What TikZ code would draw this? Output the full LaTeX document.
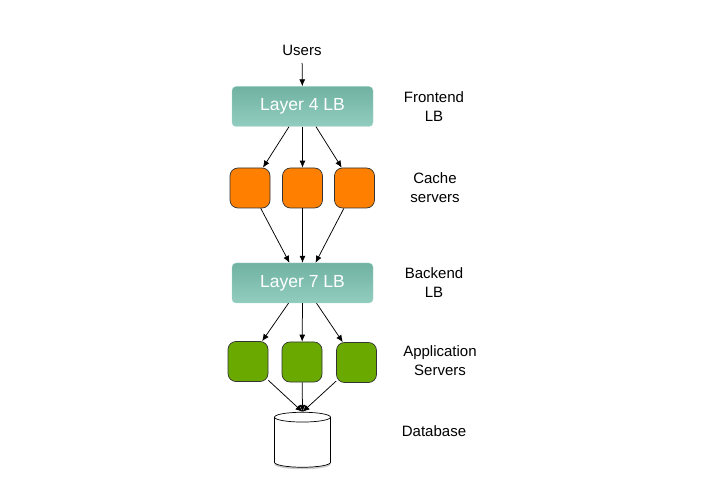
\documentclass[tikz,border=0pt]{standalone}
\usepackage{fontspec}
\setmainfont{Liberation Sans}
\usetikzlibrary{arrows.meta, shapes.geometric, shadows}
\definecolor{lbtop}{HTML}{70B2A2}
\definecolor{lbbottom}{HTML}{92CDBF}
\definecolor{lbborder}{HTML}{A5D5C9}
\definecolor{cacheorange}{HTML}{FF8000}
\definecolor{appgreen}{HTML}{6AAA00}
\tikzset{
	lb/.style={rectangle, rounded corners=4pt, draw=lbborder, top color=lbtop, bottom color=lbbottom, minimum width=141pt, minimum height=40pt, text=white, font=\fontsize{17.5}{20}\selectfont},
	server/.style={rectangle, rounded corners=8pt, draw=black!80, line width=0.7pt, minimum size=40pt, inner sep=0pt},
	store/.style={cylinder, shape border rotate=90, aspect=0.35, draw=black, line width=0.7pt, fill=white, minimum width=56pt, minimum height=55pt, inner sep=14pt, drop shadow={shadow xshift=0pt, shadow yshift=-2pt, opacity=0.4}},
	tier/.style={align=center, font=\fontsize{15}{19}\selectfont},
	flow/.style={-{Latex[length=7pt, width=6pt]}, line width=0.75pt}
}

\begin{document}
\begin{tikzpicture}[x=1pt, y=1pt]
			\useasboundingbox (0,0) rectangle (702,488);
			\node[tier] (users) at (302,438) {Users};
			\node[lb] (lbf) at (302.5,381.5) {Layer 4 LB};
			\node[server, fill=cacheorange] (cache1) at (250,300) {};
			\node[server, fill=cacheorange] (cache2) at (302.5,300) {};
			\node[server, fill=cacheorange] (cache3) at (354.5,300) {};
			\node[lb] (lbb) at (302.5,205) {Layer 7 LB};
			\node[server, fill=appgreen] (app1) at (248,126.5) {};
			\node[server, fill=appgreen] (app2) at (302,126) {};
			\node[server, fill=appgreen] (app3) at (356.5,125.5) {};
			\node[store] (db) at (302.5,43.5) {};
			\node[tier] (frontend) at (434,381) {Frontend\\LB};
			\node[tier] (cachelabel) at (435,300) {Cache\\servers};
			\node[tier] (backend) at (434,205) {Backend\\LB};
			\node[tier] (applabel) at (440,127) {Application\\ Servers};
			\node[tier] (dblabel) at (434,57) {Database};
			\draw[flow, shorten <=4pt] (users) -- (lbf);
			\draw[flow] ([xshift=-13.5pt]lbf.south) -- (cache1);
			\draw[flow] (lbf.south) -- (cache2);
			\draw[flow] ([xshift=13.5pt]lbf.south) -- (cache3);
			\draw[flow] (cache1) -- ([xshift=-13pt]lbb.north);
			\draw[flow] (cache2) -- (lbb.north);
			\draw[flow] (cache3) -- ([xshift=13pt]lbb.north);
			\draw[flow] ([xshift=-14pt]lbb.south) -- (app1);
			\draw[flow] (lbb.south) -- (app2);
			\draw[flow] ([xshift=14pt]lbb.south) -- (app3);
			\draw[flow] (app1) -- (db.north);
			\draw[flow] (app2) -- (db.north);
			\draw[flow] (app3) -- (db.north);
\end{tikzpicture}
\end{document}
